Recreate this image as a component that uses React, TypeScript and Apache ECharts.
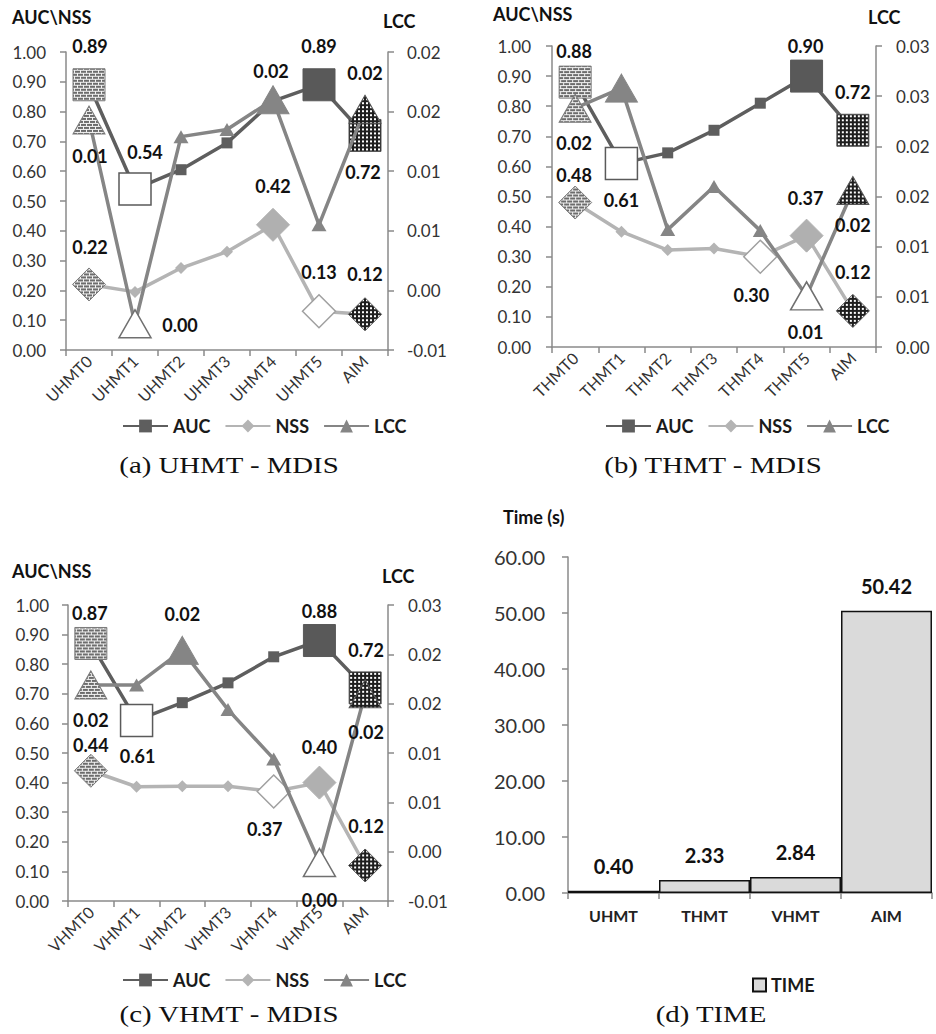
import React, { useEffect, useRef } from "react";
import * as echarts from "echarts";

const FONT = "Lato, 'Open Sans', sans-serif";
const SERIF = "'Liberation Serif', 'DejaVu Serif', serif";

// ---------------- data ----------------
const catsA = ["UHMT0", "UHMT1", "UHMT2", "UHMT3", "UHMT4", "UHMT5", "AIM"];
const aucA = [0.89, 0.54, 0.605, 0.695, 0.835, 0.89, 0.72];
const nssA = [0.22, 0.195, 0.275, 0.33, 0.42, 0.13, 0.12];
const lccA = [0.0143, -0.0028, 0.0129, 0.0135, 0.016, 0.0055, 0.0152];

const catsB = ["THMT0", "THMT1", "THMT2", "THMT3", "THMT4", "THMT5", "AIM"];
const aucB = [0.88, 0.61, 0.645, 0.72, 0.81, 0.9, 0.72];
const nssB = [0.48, 0.383, 0.322, 0.327, 0.3, 0.37, 0.12];
const lccB = [0.0238, 0.0258, 0.0117, 0.016, 0.0116, 0.0051, 0.0156];

const catsC = ["VHMT0", "VHMT1", "VHMT2", "VHMT3", "VHMT4", "VHMT5", "AIM"];
const aucC = [0.87, 0.61, 0.67, 0.737, 0.825, 0.88, 0.72];
const nssC = [0.44, 0.386, 0.388, 0.388, 0.37, 0.4, 0.12];
const lccC = [0.0169, 0.0169, 0.0204, 0.0144, 0.0094, -0.0011, 0.016];

const timeCats = ["UHMT", "THMT", "VHMT", "AIM"];
const timeVals = [0.4, 2.33, 2.84, 50.42];

// ---------------- styling ----------------
type Mark = "" | "b" | "w" | "s" | "c";
const NAMES = ["AUC", "NSS", "LCC"];
const COLORS: any = { AUC: "#5e5e5e", NSS: "#b4b4b4", LCC: "#858585" };
const BIGFILL: any = { AUC: "#595959", NSS: "#b0b0b0", LCC: "#858585" };
const WHITE_BORDER: any = { AUC: "#5a5a5a", NSS: "#a0a0a0", LCC: "#707070" };
const SYMBOL: any = { AUC: "rect", NSS: "diamond", LCC: "triangle" };
const SMALL: any = { AUC: 11, NSS: 12, LCC: [15, 13] };
const BIG: any = { AUC: [32, 32], NSS: [33, 33], LCC: [32, 28] };
const AXIS_COLOR = "#8a8a8a";

const panelA = {
  cats: catsA,
  values: { AUC: aucA, NSS: nssA, LCC: lccA },
  right: { min: -0.005, max: 0.02, interval: 0.005 },
  marks: {
    AUC: ["b", "w", "", "", "", "s", "c"] as Mark[],
    NSS: ["b", "", "", "", "s", "w", "c"] as Mark[],
    LCC: ["b", "w", "", "", "s", "", "c"] as Mark[],
  },
  labels: {
    AUC: { 0: [1, -39], 1: [10, -37], 5: [0, -39], 6: [-2, 37] },
    NSS: { 0: [1, -37], 4: [0, -39], 5: [0, -39], 6: [0, -40] },
    LCC: { 0: [1, 36], 1: [45, 1], 4: [-2, -29], 6: [0, -36] },
  } as any,
  grid: { left: 66, top: 52, width: 322, height: 298 },
  leftMargin: 20,
  rightMargin: 19,
  titleLeft: [12, 17],
  titleRight: [383, 21],
  legend: [117, 412],
  caption: { text: "(a) UHMT - MDIS", x: 229, y: 465 },
};

const panelB = {
  cats: catsB,
  values: { AUC: aucB, NSS: nssB, LCC: lccB },
  right: { min: 0, max: 0.03, interval: 0.005 },
  marks: {
    AUC: ["b", "w", "", "", "", "s", "c"] as Mark[],
    NSS: ["b", "", "", "", "w", "s", "c"] as Mark[],
    LCC: ["b", "s", "", "", "", "w", "c"] as Mark[],
  },
  labels: {
    AUC: { 0: [-1, -31], 1: [0, 37], 5: [-1, -30], 6: [0, -38] },
    NSS: { 0: [-1, -28], 4: [-9, 38], 5: [-1, -38], 6: [0, -39] },
    LCC: { 0: [-1, 35], 5: [-1, 36], 6: [0, 35] },
  } as any,
  grid: { left: 84, top: 46, width: 324, height: 301 },
  leftMargin: 21,
  rightMargin: 20,
  titleLeft: [25, 14],
  titleRight: [400, 17],
  legend: [132, 412],
  caption: { text: "(b) THMT - MDIS", x: 245, y: 465 },
};

const panelC = {
  cats: catsC,
  values: { AUC: aucC, NSS: nssC, LCC: lccC },
  right: { min: -0.005, max: 0.025, interval: 0.005 },
  marks: {
    AUC: ["b", "w", "", "", "", "s", "c"] as Mark[],
    NSS: ["b", "", "", "", "w", "s", "c"] as Mark[],
    LCC: ["b", "", "s", "", "", "w", "c"] as Mark[],
  },
  labels: {
    AUC: { 0: [-1, -30], 1: [1, 36], 5: [0, -30], 6: [1, -38] },
    NSS: { 0: [0, -26], 4: [-9, 38], 5: [0, -36], 6: [1, -39] },
    LCC: { 0: [0, 35], 2: [0, -36], 5: [0, 37], 6: [1, 38] },
  } as any,
  grid: { left: 68, top: 115, width: 320, height: 296 },
  leftMargin: 19,
  rightMargin: 20,
  titleLeft: [12, 81],
  titleRight: [382, 86],
  legend: [117, 476],
  caption: { text: "(c) VHMT - MDIS", x: 229, y: 524 },
};

function fmt2(v: number) {
  const r = (Math.sign(v) * Math.round(Math.abs(v) * 100 + 1e-9)) / 100;
  const s = r.toFixed(2);
  return s === "-0.00" ? "0.00" : s;
}

function makeTiles() {
  const brick = document.createElement("canvas");
  brick.width = 6;
  brick.height = 6;
  let ctx = brick.getContext("2d")!;
  ctx.fillStyle = "#6c6c6c";
  ctx.fillRect(0, 0, 6, 6);
  ctx.fillStyle = "#f2f2f2";
  ctx.fillRect(0, 0, 6, 1);
  ctx.fillRect(0, 3, 6, 1);
  ctx.fillRect(0, 1, 1, 2);
  ctx.fillRect(3, 4, 1, 2);
  const check = document.createElement("canvas");
  check.width = 4;
  check.height = 4;
  ctx = check.getContext("2d")!;
  ctx.fillStyle = "#1e1e1e";
  ctx.fillRect(0, 0, 4, 4);
  ctx.fillStyle = "#ffffff";
  ctx.fillRect(1, 1, 2, 2);
  return {
    brick: { url: brick.toDataURL(), w: 6, h: 6 },
    check: { url: check.toDataURL(), w: 4, h: 4 },
  };
}

// symbol paths are drawn in a 2x2 box and scaled by size/2, so scale the tile back
function patternFor(tile: any, size: number[]) {
  return {
    image: tile.url,
    repeat: "repeat",
    imageWidth: tile.w,
    imageHeight: tile.h,
    scaleX: 2 / size[0],
    scaleY: 2 / size[1],
  };
}

function markStyle(mk: Mark, n: string, tiles: any) {
  const size = BIG[n];
  if (mk === "b") return { color: patternFor(tiles.brick, size), borderColor: "#7a7a7a", borderWidth: 1 };
  if (mk === "w") return { color: "#ffffff", borderColor: WHITE_BORDER[n], borderWidth: 1.5 };
  if (mk === "s") return { color: BIGFILL[n], borderColor: BIGFILL[n], borderWidth: 1 };
  return { color: patternFor(tiles.check, size), borderColor: "#555555", borderWidth: 1 };
}

function titleText(text: string, x: number, y: number, size: number, align = "left") {
  return {
    type: "text",
    x,
    y,
    silent: true,
    style: {
      text,
      fill: "#111",
      font: `bold ${size}px ${FONT}`,
      textAlign: align,
      textVerticalAlign: "middle",
    },
  };
}

function captionText(c: any) {
  return {
    type: "text",
    x: c.x,
    y: c.y,
    scaleX: 1.2,
    silent: true,
    style: {
      text: c.text,
      fill: "#111",
      font: `24px ${SERIF}`,
      textAlign: "center",
      textVerticalAlign: "middle",
    },
  };
}

function lineOption(p: any, tiles: any) {
  const series = NAMES.map((n, si) => {
    const vals: number[] = p.values[n];
    const marks: Mark[] = p.marks[n];
    const offs = p.labels[n] || {};
    const isL = n === "LCC";
    return {
      name: n,
      type: "line",
      yAxisIndex: isL ? 1 : 0,
      symbol: SYMBOL[n],
      symbolSize: SMALL[n],
      showAllSymbol: true,
      z: 2 + si,
      lineStyle: { color: COLORS[n], width: 3.5 },
      itemStyle: { color: COLORS[n] },
      label: {
        show: false,
        fontFamily: FONT,
        fontSize: 18,
        fontWeight: "bold",
        color: "#111",
        formatter: (d: any) => (isL ? fmt2(d.value) : Number(d.value).toFixed(2)),
      },
      data: vals.map((v, i) => {
        const item: any = { value: v };
        const mk = marks[i];
        if (mk) {
          item.symbolSize = BIG[n];
          item.itemStyle = markStyle(mk, n, tiles);
        }
        const o = offs[i];
        if (o) item.label = { show: true, position: "inside", offset: o };
        return item;
      }),
    };
  });
  const axisLine = { show: true, lineStyle: { color: AXIS_COLOR, width: 1.5 } };
  const axisTick = { show: true, length: 6, lineStyle: { color: AXIS_COLOR, width: 1.5 } };
  return {
    animation: false,
    backgroundColor: "#ffffff",
    grid: { ...p.grid, containLabel: false },
    xAxis: {
      type: "category",
      data: p.cats,
      boundaryGap: true,
      axisLine,
      axisTick: { ...axisTick, alignWithLabel: false },
      axisLabel: {
        interval: 0,
        rotate: 45,
        fontFamily: FONT,
        fontSize: 16,
        color: "#333",
        margin: 8,
      },
      splitLine: { show: false },
    },
    yAxis: [
      {
        type: "value",
        position: "left",
        min: 0,
        max: 1,
        interval: 0.1,
        axisLine,
        axisTick,
        splitLine: { show: false },
        axisLabel: {
          fontFamily: FONT,
          fontSize: 17,
          color: "#333",
          margin: p.leftMargin,
          formatter: (v: number) => v.toFixed(2),
        },
      },
      {
        type: "value",
        position: "right",
        min: p.right.min,
        max: p.right.max,
        interval: p.right.interval,
        axisLine,
        axisTick,
        splitLine: { show: false },
        axisLabel: {
          fontFamily: FONT,
          fontSize: 17,
          color: "#333",
          margin: p.rightMargin,
          formatter: (v: number) => fmt2(v),
        },
      },
    ],
    legend: {
      left: p.legend[0],
      top: p.legend[1],
      itemWidth: 45,
      itemHeight: 16,
      itemGap: 14,
      textStyle: { fontFamily: FONT, fontSize: 18, fontWeight: "bold", color: "#1a1a1a" },
      data: NAMES,
    },
    graphic: {
      elements: [
        titleText("AUC\\NSS", p.titleLeft[0], p.titleLeft[1], 18),
        titleText("LCC", p.titleRight[0], p.titleRight[1], 18),
        captionText(p.caption),
      ],
    },
    series,
  };
}

function barOption() {
  const axisLine = { show: true, lineStyle: { color: AXIS_COLOR, width: 1.5 } };
  const axisTick = { show: true, length: 6, lineStyle: { color: AXIS_COLOR, width: 1.5 } };
  return {
    animation: false,
    backgroundColor: "#ffffff",
    grid: { left: 100, top: 67, width: 364, height: 336 },
    xAxis: {
      type: "category",
      data: timeCats,
      axisLine,
      axisTick: { ...axisTick, alignWithLabel: false },
      axisLabel: {
        fontFamily: FONT,
        fontSize: 16,
        fontWeight: "bold",
        color: "#222",
        margin: 14,
      },
    },
    yAxis: {
      type: "value",
      min: 0,
      max: 60,
      interval: 10,
      axisLine,
      axisTick,
      splitLine: { show: false },
      axisLabel: {
        fontFamily: FONT,
        fontSize: 20,
        color: "#333",
        margin: 23,
        formatter: (v: number) => v.toFixed(2),
      },
    },
    legend: {
      left: 279,
      top: 481,
      icon: "rect",
      itemWidth: 13,
      itemHeight: 13,
      textStyle: { fontFamily: FONT, fontSize: 18, fontWeight: "bold", color: "#1a1a1a" },
      data: ["TIME"],
    },
    graphic: {
      elements: [
        titleText("Time (s)", 35, 27, 18),
        captionText({ text: "(d) TIME", x: 243, y: 524 }),
      ],
    },
    series: [
      {
        name: "TIME",
        type: "bar",
        barWidth: "100%",
        barCategoryGap: "0%",
        itemStyle: { color: "#dadada", borderColor: "#111", borderWidth: 1.5 },
        label: {
          show: true,
          position: "top",
          distance: 15,
          fontFamily: FONT,
          fontSize: 20,
          fontWeight: "bold",
          color: "#111",
          formatter: (d: any) => Number(d.value).toFixed(2),
        },
        data: timeVals,
      },
    ],
  };
}

export default function App() {
  const refA = useRef<HTMLDivElement>(null);
  const refB = useRef<HTMLDivElement>(null);
  const refC = useRef<HTMLDivElement>(null);
  const refD = useRef<HTMLDivElement>(null);

  useEffect(() => {
    const tiles = makeTiles();
    const charts: any[] = [];
    const pairs: [HTMLDivElement | null, any][] = [
      [refA.current, lineOption(panelA, tiles)],
      [refB.current, lineOption(panelB, tiles)],
      [refC.current, lineOption(panelC, tiles)],
      [refD.current, barOption()],
    ];
    pairs.forEach(([el, opt]) => {
      if (!el) return;
      const c = echarts.init(el, undefined, { renderer: "svg" });
      c.setOption(opt);
      charts.push(c);
    });
    return () => charts.forEach((c) => c.dispose());
  }, []);

  const box = (left: number, top: number, w: number, h: number): React.CSSProperties => ({
    position: "absolute",
    left,
    top,
    width: w,
    height: h,
  });

  return (
    <div style={{ position: "absolute", left: 0, top: 0, width: 936, height: 1034, background: "#fff", overflow: "hidden" }}>
      <div ref={refA} style={box(0, 0, 468, 490)} />
      <div ref={refB} style={box(468, 0, 468, 490)} />
      <div ref={refC} style={box(0, 490, 468, 544)} />
      <div ref={refD} style={box(468, 490, 468, 544)} />
    </div>
  );
}
